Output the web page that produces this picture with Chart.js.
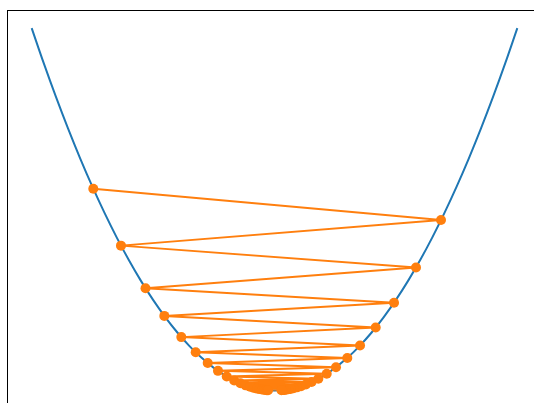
<!DOCTYPE html>
<html>
<head>
<meta charset="utf-8">
<script src="https://cdn.jsdelivr.net/npm/chart.js@4/dist/chart.umd.min.js"></script>
<style>
  html, body { margin: 0; padding: 0; overflow: hidden; background: #fff; }
  #wrap { position: absolute; left: 0; top: 0; width: 560px; height: 430px; }
</style>
</head>
<body>
<div id="wrap"><canvas id="c"></canvas></div>
<script>
// Blue curve f(x) = x^2 sampled values
const curveX = [-4, -3.8, -3.6, -3.4, -3.2, -3, -2.8, -2.6, -2.4, -2.2, -2, -1.8, -1.6, -1.4, -1.2, -1, -0.8, -0.6, -0.4, -0.2, 0,
                0.2, 0.4, 0.6, 0.8, 1, 1.2, 1.4, 1.6, 1.8, 2, 2.2, 2.4, 2.6, 2.8, 3, 3.2, 3.4, 3.6, 3.8, 4];
const curveY = [16, 14.44, 12.96, 11.56, 10.24, 9, 7.84, 6.76, 5.76, 4.84, 4, 3.24, 2.56, 1.96, 1.44, 1, 0.64, 0.36, 0.16, 0.04, 0,
                0.04, 0.16, 0.36, 0.64, 1, 1.44, 1.96, 2.56, 3.24, 4, 4.84, 5.76, 6.76, 7.84, 9, 10.24, 11.56, 12.96, 14.44, 16];

// Orange trajectory (iterates)
const pathX = [-2.985, 2.743, -2.529, 2.331, -2.125, 1.969, -1.815, 1.667, -1.535, 1.409, -1.298, 1.199, -1.100, 1.013,
               -0.931, 0.860, -0.787, 0.722, -0.664, 0.611, -0.562, 0.517, -0.476, 0.438, -0.403, 0.371, -0.341,
               0.314, -0.289, 0.266, -0.245, 0.225, -0.207, 0.190, -0.175, 0.161, -0.148, 0.136, -0.125, 0.115, -0.106];
const pathY = [8.910, 7.524, 6.396, 5.434, 4.516, 3.877, 3.294, 2.779, 2.356, 1.985, 1.685, 1.438, 1.210, 1.026,
               0.867, 0.740, 0.619, 0.521, 0.441, 0.373, 0.316, 0.267, 0.227, 0.192, 0.162, 0.138, 0.116,
               0.0986, 0.0835, 0.0708, 0.0600, 0.0506, 0.0428, 0.0361, 0.0306, 0.0259, 0.0219, 0.0185, 0.0156, 0.0132, 0.0112];

const curvePts = curveX.map((x, i) => ({ x: x, y: curveY[i] }));
const pathPts = pathX.map((x, i) => ({ x: x, y: pathY[i] }));

const frame = {
  id: 'frame',
  afterDraw(chart) {
    const a = chart.chartArea, ctx = chart.ctx;
    ctx.save();
    ctx.strokeStyle = '#000';
    ctx.lineWidth = 1;
    ctx.strokeRect(Math.round(a.left) + 0.5, Math.round(a.top) + 0.5,
                   Math.round(a.right - a.left), Math.round(a.bottom - a.top));
    ctx.restore();
  }
};

new Chart(document.getElementById('c'), {
  type: 'scatter',
  data: {
    datasets: [
      {
        data: pathPts, showLine: true, order: 1,
        borderColor: '#ff7f0e', backgroundColor: '#ff7f0e', borderWidth: 2,
        pointRadius: 5, pointBackgroundColor: '#ff7f0e', pointBorderColor: '#ff7f0e', pointBorderWidth: 0
      },
      {
        data: curvePts, showLine: true, order: 2,
        borderColor: '#1f77b4', backgroundColor: '#1f77b4', borderWidth: 2,
        pointRadius: 0, tension: 0.4
      }
    ]
  },
  options: {
    responsive: true, maintainAspectRatio: false, animation: false,
    layout: { padding: { left: 7.4, right: 18.4, top: 10, bottom: 21.4 } },
    plugins: { legend: { display: false }, tooltip: { enabled: false } },
    scales: {
      x: { type: 'linear', min: -4.4, max: 4.4, display: false },
      y: { type: 'linear', min: -0.8, max: 16.8, display: false }
    }
  },
  plugins: [frame]
});
</script>
</body>
</html>
